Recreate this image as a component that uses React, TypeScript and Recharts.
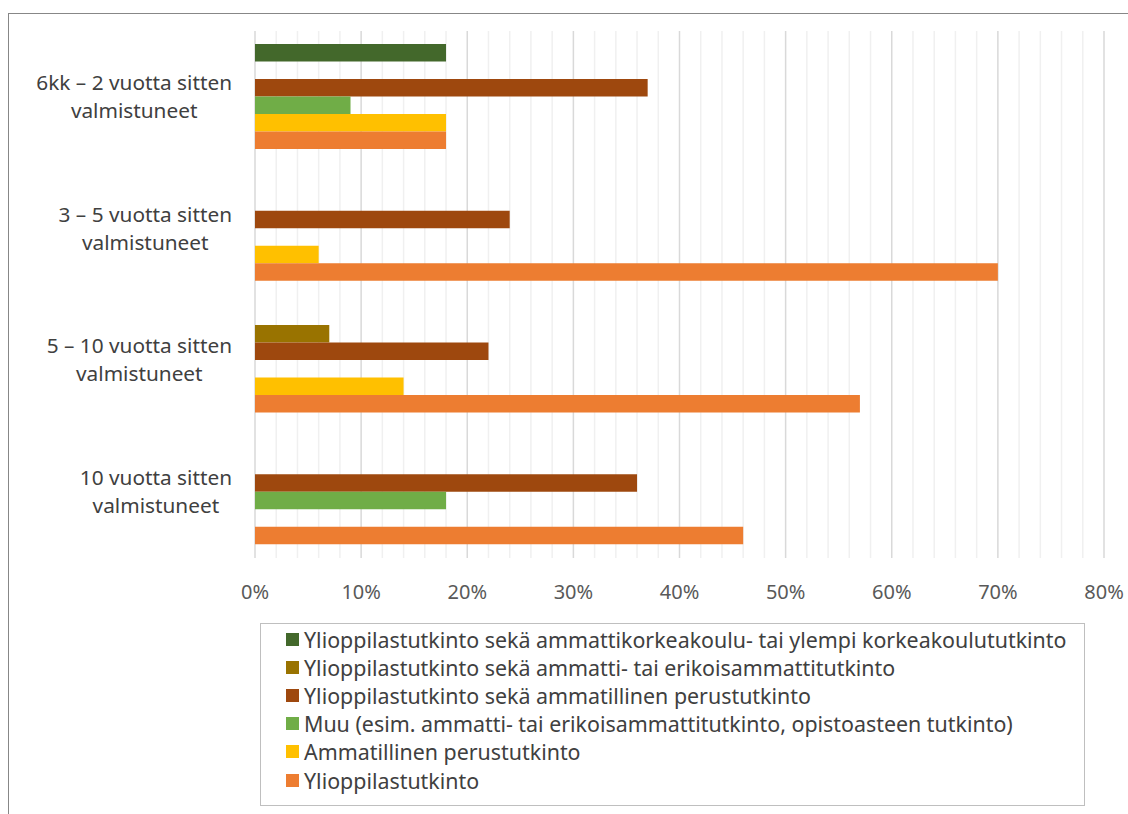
import React from 'react';
import { BarChart, Bar, XAxis, YAxis, CartesianGrid } from 'recharts';

const categories = [
  '6kk – 2 vuotta sitten\nvalmistuneet',
  '3 – 5 vuotta sitten\nvalmistuneet',
  '5 – 10 vuotta sitten\nvalmistuneet',
  '10 vuotta sitten\nvalmistuneet',
];

const seriesNames = [
  'Ylioppilastutkinto sekä ammattikorkeakoulu- tai ylempi korkeakoulututkinto',
  'Ylioppilastutkinto sekä ammatti- tai erikoisammattitutkinto',
  'Ylioppilastutkinto sekä ammatillinen perustutkinto',
  'Muu (esim. ammatti- tai erikoisammattitutkinto, opistoasteen tutkinto)',
  'Ammatillinen perustutkinto',
  'Ylioppilastutkinto',
];

const seriesColors = ['#43682b', '#997300', '#9e480e', '#70ad47', '#ffc000', '#ed7d31'];

// values per series, in category order
const korkeakoulu = [18, 0, 0, 0];
const ammattiErikois = [0, 0, 7, 0];
const ammatillinenYo = [37, 24, 22, 36];
const muu = [9, 0, 0, 18];
const ammatillinen = [18, 6, 14, 0];
const ylioppilas = [18, 70, 57, 46];

const seriesValues = [korkeakoulu, ammattiErikois, ammatillinenYo, muu, ammatillinen, ylioppilas];

const xTicks = [0, 10, 20, 30, 40, 50, 60, 70, 80];
const minorTicks = [2, 4, 6, 8, 12, 14, 16, 18, 22, 24, 26, 28, 32, 34, 36, 38, 42, 44, 46, 48, 52, 54, 56, 58, 62, 64, 66, 68, 72, 74, 76, 78];

const data = categories.map((name, i) => {
  const row: Record<string, string | number> = { name };
  seriesValues.forEach((vals, s) => {
    row[`s${s}`] = vals[i];
  });
  return row;
});

const FONT = '"Noto Sans", "Open Sans", sans-serif';
const LABEL_SIZE = 20.8;

let measureCtx: CanvasRenderingContext2D | null = null;
function textWidth(text: string, size: number) {
  if (!measureCtx) {
    measureCtx = document.createElement('canvas').getContext('2d');
  }
  if (!measureCtx) return text.length * size * 0.5;
  measureCtx.font = `${size}px "Noto Sans"`;
  return measureCtx.measureText(text).width;
}

function CategoryTick(props: any) {
  const { x, y, payload } = props;
  const [first, second] = String(payload.value).split('\n');
  const w = textWidth(first, LABEL_SIZE);
  const mid = x - w / 2;
  return (
    <g>
      <text x={x} y={y - 15} textAnchor="end" dominantBaseline="central"
        fill="#404040" fontSize={LABEL_SIZE} fontFamily={FONT}>
        {first}
      </text>
      <text x={mid} y={y + 13} textAnchor="middle" dominantBaseline="central"
        fill="#404040" fontSize={LABEL_SIZE} fontFamily={FONT}>
        {second}
      </text>
    </g>
  );
}

export default function App() {
  return (
    <div style={{ position: 'fixed', left: 0, top: 0, width: 1128, height: 814, overflow: 'hidden', background: '#fff' }}>
      <div style={{
        position: 'absolute', left: 8, top: 13, width: 1200, height: 900,
        border: '1.5px solid #878787', boxSizing: 'border-box',
      }} />
      <div style={{ position: 'absolute', left: 0, top: 0 }}>
        <BarChart
          width={1128}
          height={620}
          data={data}
          layout="vertical"
          margin={{ top: 31, right: 24, bottom: 0, left: 0 }}
          barGap={0}
          barSize={17.5}
        >
          <CartesianGrid horizontal={false} verticalValues={minorTicks} stroke="#f0f0f0" strokeWidth={1.5} />
          <CartesianGrid horizontal={false} verticalValues={xTicks} stroke="#d9d9d9" strokeWidth={1.5} />
          <XAxis
            type="number"
            domain={[0, 80]}
            ticks={xTicks}
            tickFormatter={(v: number) => `${v}%`}
            axisLine={false}
            tickLine={false}
            tickSize={0}
            tickMargin={27}
            height={62}
            tick={{ fill: '#595959', fontSize: 20, fontFamily: FONT }}
            interval={0}
          />
          <YAxis
            type="category"
            dataKey="name"
            width={255}
            axisLine={false}
            tickLine={false}
            tickSize={0}
            tickMargin={23}
            tick={<CategoryTick />}
            interval={0}
          />
          {seriesNames.map((name, s) => (
            <Bar key={name} dataKey={`s${s}`} name={name} fill={seriesColors[s]} isAnimationActive={false} />
          ))}
        </BarChart>
      </div>
      <div style={{
        position: 'absolute', left: 260, top: 623, width: 825, height: 183,
        border: '1.5px solid #bfbfbf', boxSizing: 'border-box', paddingTop: 1,
        fontFamily: FONT, fontSize: 21.4, color: '#404040',
      }}>
        {seriesNames.map((name, s) => (
          <div key={name} style={{ display: 'flex', alignItems: 'center', height: 28.2, paddingLeft: 25, whiteSpace: 'nowrap' }}>
            <span style={{ display: 'inline-block', width: 13, height: 13, background: seriesColors[s], marginRight: 5, flexShrink: 0 }} />
            <span>{name}</span>
          </div>
        ))}
      </div>
    </div>
  );
}
